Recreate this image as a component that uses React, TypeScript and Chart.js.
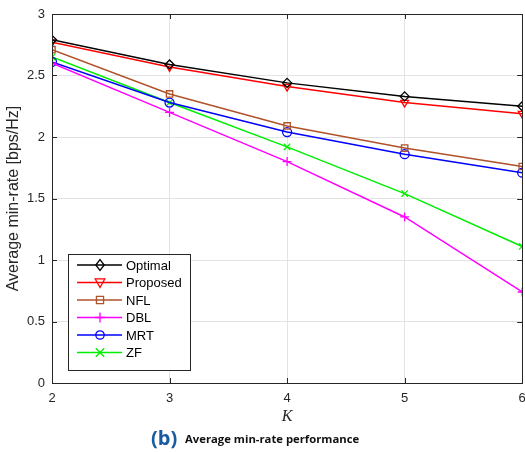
import React, { useEffect, useRef } from "react";
import { Chart, registerables } from "chart.js";

Chart.register(...registerables);

const kValues = [2, 3, 4, 5, 6];
const optimal = [2.79, 2.59, 2.44, 2.33, 2.25];
const proposed = [2.77, 2.57, 2.41, 2.28, 2.19];
const nfl = [2.71, 2.35, 2.09, 1.91, 1.76];
const dbl = [2.6, 2.2, 1.8, 1.35, 0.74];
const mrt = [2.61, 2.28, 2.04, 1.86, 1.71];
const zf = [2.65, 2.28, 1.92, 1.54, 1.11];
const yTicks = [0, 0.5, 1, 1.5, 2, 2.5, 3];

const seriesDefs = [
  { label: "Optimal", data: optimal, color: "#000000", style: "rectRot", rotation: 0 },
  { label: "Proposed", data: proposed, color: "#ff0000", style: "triangle", rotation: 180 },
  { label: "NFL", data: nfl, color: "#b0522a", style: "rect", rotation: 0 },
  { label: "DBL", data: dbl, color: "#ff00ff", style: "cross", rotation: 0 },
  { label: "MRT", data: mrt, color: "#0000ff", style: "circle", rotation: 0 },
  { label: "ZF", data: zf, color: "#00ee00", style: "crossRot", rotation: 0 },
];

const tickFont = "Liberation Sans";

function drawMarker(ctx: CanvasRenderingContext2D, style: string, x: number, y: number, r: number, rot: number, color: string) {
  ctx.save();
  ctx.strokeStyle = color;
  ctx.translate(x, y);
  ctx.rotate((rot * Math.PI) / 180);
  ctx.beginPath();
  if (style === "rectRot") {
    ctx.moveTo(0, -r * 1.3); ctx.lineTo(r, 0); ctx.lineTo(0, r * 1.3); ctx.lineTo(-r, 0); ctx.closePath();
  } else if (style === "triangle") {
    const h = r * 1.2;
    ctx.moveTo(0, -h); ctx.lineTo(h * 0.95, h * 0.7); ctx.lineTo(-h * 0.95, h * 0.7); ctx.closePath();
  } else if (style === "rect") {
    ctx.rect(-r * 0.85, -r * 0.85, r * 1.7, r * 1.7);
  } else if (style === "cross") {
    ctx.moveTo(0, -r * 1.2); ctx.lineTo(0, r * 1.2); ctx.moveTo(-r * 1.2, 0); ctx.lineTo(r * 1.2, 0);
  } else if (style === "circle") {
    ctx.arc(0, 0, r, 0, Math.PI * 2);
  } else if (style === "crossRot") {
    ctx.moveTo(-r, -r); ctx.lineTo(r, r); ctx.moveTo(-r, r); ctx.lineTo(r, -r);
  }
  ctx.stroke();
  ctx.restore();
}

const framePlugin = {
  id: "frame",
  afterDatasetsDraw(chart: any) {
    const { ctx, chartArea: a, scales } = chart;
    const xs = scales.x, ys = scales.y;
    ctx.save();
    ctx.strokeStyle = "#262626";
    ctx.lineWidth = 1;
    ctx.beginPath();
    for (const k of kValues) {
      const px = Math.round(xs.getPixelForValue(k)) + 0.5;
      ctx.moveTo(px, a.bottom); ctx.lineTo(px, a.bottom - 5);
      ctx.moveTo(px, a.top); ctx.lineTo(px, a.top + 5);
    }
    for (const v of yTicks) {
      const py = Math.round(ys.getPixelForValue(v)) + 0.5;
      ctx.moveTo(a.left, py); ctx.lineTo(a.left + 5, py);
      ctx.moveTo(a.right, py); ctx.lineTo(a.right - 5, py);
    }
    ctx.stroke();
    ctx.strokeRect(Math.round(a.left) + 0.5, Math.round(a.top) + 0.5, Math.round(a.right - a.left), Math.round(a.bottom - a.top));
    ctx.fillStyle = "#262626";
    ctx.font = `13px "${tickFont}"`;
    ctx.textAlign = "center";
    ctx.textBaseline = "top";
    for (const k of kValues) {
      ctx.fillText(String(k), xs.getPixelForValue(k), a.bottom + 9);
    }
    ctx.restore();
  },
  afterDraw(chart: any) {
    const { ctx, chartArea: a } = chart;
    ctx.save();
    const lx = a.left + 16, ly = a.bottom - 129, lw = 122, lh = 116;
    ctx.fillStyle = "#ffffff";
    ctx.fillRect(lx, ly, lw, lh);
    ctx.strokeStyle = "#262626";
    ctx.lineWidth = 1;
    ctx.strokeRect(lx + 0.5, ly + 0.5, lw, lh);
    ctx.font = `13px "${tickFont}"`;
    ctx.textBaseline = "middle";
    ctx.textAlign = "left";
    chart.data.datasets.forEach((ds: any, i: number) => {
      const y = ly + 11 + i * 17.5;
      ctx.strokeStyle = ds.borderColor;
      ctx.lineWidth = 1.5;
      ctx.beginPath();
      ctx.moveTo(lx + 9, y);
      ctx.lineTo(lx + 54, y);
      ctx.stroke();
      ctx.lineWidth = 1.3;
      drawMarker(ctx, ds.pointStyle, lx + 32, y, 4.2, ds.pointRotation || 0, ds.borderColor);
      ctx.fillStyle = "#000000";
      ctx.fillText(ds.label, lx + 58, y + 1);
    });
    ctx.textBaseline = "alphabetic";
    ctx.font = `bold 20px "Open Sans"`;
    ctx.fillStyle = "#1a5aa0";
    ctx.fillText("(b)", 151, 445);
    ctx.font = `bold 11.3px "Open Sans"`;
    ctx.fillStyle = "#111111";
    ctx.fillText("Average min-rate performance", 185, 443);
    ctx.restore();
  },
};

export default function App() {
  const ref = useRef<HTMLCanvasElement>(null);
  useEffect(() => {
    if (!ref.current) return;
    const chart = new Chart(ref.current, {
      type: "line",
      data: {
        datasets: seriesDefs.map((s) => ({
          label: s.label,
          data: kValues.map((k, i) => ({ x: k, y: s.data[i] })),
          borderColor: s.color,
          backgroundColor: "rgba(255,255,255,0)",
          borderWidth: 1.5,
          pointStyle: s.style as any,
          pointRotation: s.rotation,
          pointRadius: 4.5,
          pointBorderWidth: 1.3,
          pointBorderColor: s.color,
          pointBackgroundColor: "rgba(255,255,255,0)",
          tension: 0,
        })),
      },
      options: {
        animation: false,
        responsive: false,
        maintainAspectRatio: false,
        layout: { padding: { left: 0, right: 3, top: 14, bottom: 26 } },
        plugins: { legend: { display: false }, tooltip: { enabled: false } },
        scales: {
          x: {
            type: "linear",
            min: 2,
            max: 6,
            afterBuildTicks: (s: any) => { s.ticks = kValues.map((v) => ({ value: v })); },
            afterFit: (s: any) => { s.height = 43; s.paddingLeft = 0; s.paddingRight = 0; },
            ticks: { display: false },
            grid: { color: "#e3e3e3", lineWidth: 1, drawTicks: false },
            border: { display: false },
            title: {
              display: true,
              text: "K",
              color: "#262626",
              font: { family: "Liberation Serif", style: "italic", size: 16 },
              padding: { top: 0, bottom: 0 },
            },
          },
          y: {
            type: "linear",
            min: 0,
            max: 3,
            afterBuildTicks: (s: any) => { s.ticks = yTicks.map((v) => ({ value: v })); },
            afterFit: (s: any) => { s.width = 52; s.paddingTop = 0; s.paddingBottom = 0; },
            ticks: { color: "#262626", font: { family: tickFont, size: 13 }, padding: 7, callback: (v: any) => String(v) },
            grid: { color: "#e3e3e3", lineWidth: 1, drawTicks: false },
            border: { display: false },
            title: {
              display: true,
              text: "Average min-rate [bps/Hz]",
              color: "#262626",
              font: { family: tickFont, size: 16 },
              padding: { top: 4, bottom: 0 },
            },
          },
        },
      },
      plugins: [framePlugin],
    });
    return () => chart.destroy();
  }, []);
  return (
    <div style={{ position: "absolute", left: 0, top: 0, width: 525, height: 452, overflow: "hidden", background: "#fff" }}>
      <canvas ref={ref} width={528} height={452} style={{ display: "block", width: 528, height: 452 }} />
    </div>
  );
}
